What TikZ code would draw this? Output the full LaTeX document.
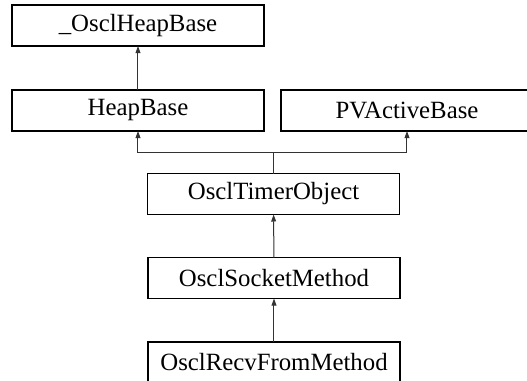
\documentclass[tikz,border=0pt]{standalone}
\usepackage{fontspec}
\setmainfont{Liberation Serif}
\usetikzlibrary{arrows.meta}

\tikzset{
  classbox/.style={draw, line width=0.65pt, minimum width=126pt,
    minimum height=20.5pt, inner sep=0pt, outer sep=0pt,
    font=\fontsize{12.4}{14}\selectfont},
  inherit/.style={line width=0.5pt, draw=black!80,
    -{Triangle[length=3.5pt, width=2.4pt]}}
}

\begin{document}
\begin{tikzpicture}[x=0.5pt, y=-0.5pt]
  \useasboundingbox (0,0) rectangle (527,381);

  % Class boxes
  \node[classbox] (oheap)  at (138, 25.5)   {\_OsclHeapBase};
  \node[classbox] (heap)   at (138, 110.5)  {HeapBase};
  \node[classbox] (pvact)  at (407, 110.5)  {PVActiveBase};
  \node[classbox] (timer)  at (273.5, 194)  {OsclTimerObject};
  \node[classbox] (socket) at (274, 278)    {OsclSocketMethod};
  \node[classbox] (recv)   at (274, 362.5)  {OsclRecvFromMethod};

  % Inheritance
  \coordinate (hub) at (273.5, 152);
  \draw[inherit] (heap) -- (oheap);
  \draw[line width=0.5pt, draw=black!80] (timer) -- (hub);
  \draw[inherit] (hub) -| (heap);
  \draw[inherit] (hub) -| (pvact);
  \draw[inherit] (socket) -- (timer);
  \draw[inherit] (recv) -- (socket);
\end{tikzpicture}
\end{document}
